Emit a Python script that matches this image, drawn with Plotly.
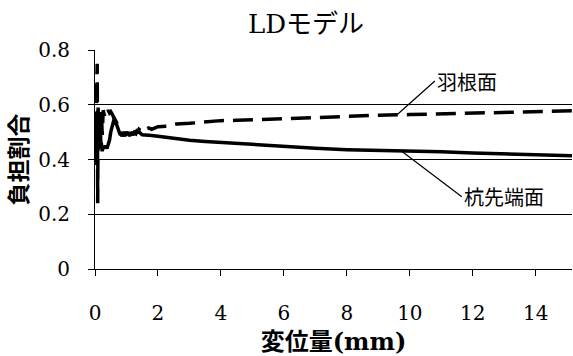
import plotly.graph_objects as go

# ---- data ----
blade_x = [0.00, 0.03, 0.05, 0.06, 0.07, 0.075, 0.08, 0.085, 0.09, 0.10, 0.11, 0.12, 0.14,
           0.16, 0.18, 0.20, 0.23, 0.26, 0.30, 0.34, 0.38, 0.42, 0.46, 0.50, 0.55, 0.60,
           0.65, 0.70, 0.75, 0.80, 0.85, 0.90, 0.95, 1.00, 1.05, 1.10, 1.15, 1.20, 1.25,
           1.30, 1.35, 1.40, 1.50, 1.60, 1.70, 1.80, 2.00, 2.30, 2.60, 3.00, 3.50, 4.00,
           4.50, 5.00, 6.00, 7.00, 8.00, 9.00, 10.0, 11.0, 12.0, 13.0, 14.0, 15.2]
blade_y = [0.50, 0.55, 0.62, 0.70, 0.75, 0.60, 0.35, 0.24, 0.40, 0.59, 0.46, 0.58, 0.44,
           0.57, 0.45, 0.58, 0.49, 0.58, 0.56, 0.58, 0.57, 0.58, 0.57, 0.575, 0.565, 0.555,
           0.54, 0.53, 0.52, 0.50, 0.485, 0.50, 0.485, 0.50, 0.49, 0.50, 0.485, 0.50, 0.49,
           0.505, 0.495, 0.51, 0.50, 0.51, 0.515, 0.51, 0.52, 0.522, 0.53, 0.532, 0.537,
           0.542, 0.543, 0.546, 0.549, 0.553, 0.558, 0.562, 0.564, 0.567, 0.570, 0.573,
           0.576, 0.578]

tip_x = [0.00, 0.03, 0.05, 0.06, 0.07, 0.08, 0.09, 0.10, 0.11, 0.12, 0.14, 0.16, 0.18,
         0.20, 0.23, 0.26, 0.30, 0.34, 0.38, 0.42, 0.46, 0.50, 0.55, 0.60, 0.65, 0.70,
         0.75, 0.80, 0.85, 0.90, 0.95, 1.00, 1.05, 1.10, 1.15, 1.20, 1.25, 1.30, 1.35,
         1.40, 1.50, 1.60, 1.70, 1.80, 2.00, 2.50, 3.00, 3.50, 4.00, 5.00, 6.00, 7.00,
         8.00, 9.00, 10.0, 11.0, 12.0, 13.0, 14.0, 15.2]
tip_y = [0.50, 0.45, 0.38, 0.56, 0.40, 0.58, 0.43, 0.55, 0.44, 0.57, 0.45, 0.55, 0.44,
         0.46, 0.43, 0.45, 0.44, 0.45, 0.44, 0.455, 0.47, 0.50, 0.53, 0.545, 0.54, 0.525,
         0.51, 0.49, 0.50, 0.485, 0.50, 0.49, 0.50, 0.485, 0.50, 0.49, 0.50, 0.495, 0.51,
         0.50, 0.49, 0.49, 0.487, 0.488, 0.485, 0.477, 0.470, 0.466, 0.462, 0.455, 0.447,
         0.441, 0.436, 0.434, 0.432, 0.428, 0.424, 0.420, 0.417, 0.414]

x_ticks = [0, 2, 4, 6, 8, 10, 12, 14]
y_ticks = [0, 0.2, 0.4, 0.6, 0.8]
y_tick_text = ["0", "0.2", "0.4", "0.6", "0.8"]

title_text = "LDモデル"
x_title = "変位量(mm)"
y_title = "負担割合"
blade_name = "羽根面"
tip_name = "杭先端面"

SERIF = "DejaVu Serif, Noto Sans CJK JP"
JP = "Noto Sans CJK JP"

fig = go.Figure()
fig.add_trace(go.Scatter(x=blade_x, y=blade_y, mode="lines", name=blade_name,
                         line=dict(color="black", width=3.5, dash="20px,9px")))
fig.add_trace(go.Scatter(x=tip_x, y=tip_y, mode="lines", name=tip_name,
                         line=dict(color="black", width=3.5)))

fig.add_annotation(x=9.62, y=0.566, ax=37, ay=-33, text=blade_name, showarrow=True,
                   arrowhead=0, arrowwidth=1.2, arrowcolor="black", xanchor="left",
                   yanchor="middle", standoff=0, startstandoff=0,
                   font=dict(family=JP, size=20, color="black"))
fig.add_annotation(x=9.68, y=0.436, ax=62, ay=47, text=tip_name, showarrow=True,
                   arrowhead=0, arrowwidth=1.2, arrowcolor="black", xanchor="left",
                   yanchor="middle", standoff=0, startstandoff=0,
                   font=dict(family=JP, size=20, color="black"))

fig.update_layout(
    width=573, height=356,
    margin=dict(l=95, r=1, t=50, b=87, autoexpand=False),
    paper_bgcolor="white", plot_bgcolor="white",
    showlegend=False,
    title=dict(text=title_text, x=306 / 573, xanchor="center", y=1 - 24 / 356,
               yanchor="middle", font=dict(family=SERIF, size=26, color="black")),
)
fig.update_xaxes(range=[0, 15.15], tickvals=x_ticks, ticks="outside", ticklen=6,
                 tickcolor="black", showline=True, linecolor="black", linewidth=1,
                 showgrid=False, zeroline=False, ticklabelstandoff=20, automargin=False,
                 tickfont=dict(family=SERIF, size=20, color="black"),
                 title=dict(text=x_title, standoff=10,
                            font=dict(family=SERIF, size=24, color="black", weight="bold")))
fig.update_yaxes(range=[0, 0.8], tickvals=y_ticks, ticktext=y_tick_text, ticks="outside",
                 ticklen=6, tickcolor="black", showline=True, linecolor="black", linewidth=1,
                 showgrid=True, gridcolor="black", gridwidth=1, zeroline=False,
                 ticklabelstandoff=14, automargin=False,
                 tickfont=dict(family=SERIF, size=20, color="black"),
                 title=dict(text=y_title, standoff=5,
                            font=dict(family=JP, size=23, color="black", weight="bold")))

fig.write_html("out.html", config={"displayModeBar": False},
               post_script="document.body.style.margin='0';")
